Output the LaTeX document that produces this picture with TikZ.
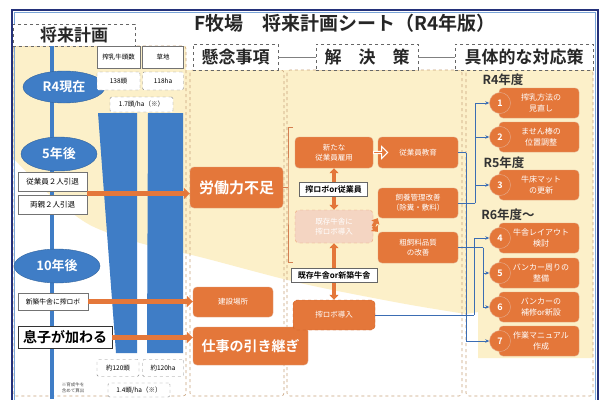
\documentclass[tikz,border=0pt]{standalone}
\usepackage{fontspec}
\setmainfont{Noto Sans CJK JP}[BoldFont={Noto Sans CJK JP Bold}]
\usetikzlibrary{arrows.meta,shapes.geometric,shapes.arrows}
\definecolor{org}{HTML}{E4773A}
\definecolor{orgd}{HTML}{C95F25}
\definecolor{cream}{HTML}{FCF0C9}
\definecolor{bl}{HTML}{3F7DC6}
\definecolor{navy}{HTML}{24317A}
\definecolor{pale}{HTML}{F4D5C2}
\definecolor{colln}{HTML}{C8A27C}
\definecolor{lnk}{HTML}{3B6DB3}
\newcommand\myfs[1]{\fontsize{#1}{#1}\selectfont}
\newcommand\myfsl[2]{\fontsize{#1}{#2}\selectfont}
\tikzset{
 hdr/.style={draw=black!60, dashed, fill=white, inner sep=0, font=\bfseries\myfs{17}, text=black!85},
 wbox/.style={draw=black!55, fill=white, inner sep=0, font=\myfs{7}},
 dbox/.style={draw=black!45, dashed, fill=white, inner sep=0, rounded corners=1.5pt, font=\myfs{6.5}},
 obox/.style={fill=org, draw=orgd!60, rounded corners=4pt, inner sep=0, text=white, align=center, font=\myfsl{7.5}{10}},
 ell/.style={ellipse, fill=bl, draw=bl!80!black, inner sep=0, text=white, font=\bfseries\myfs{13}},
 oarr/.style={draw=org, line width=5pt, -{Triangle[length=6pt,width=11pt]}},
 darr/.style={draw=org, line width=3.5pt, {Triangle[length=5pt,width=9pt]}-{Triangle[length=5pt,width=9pt]}},
 sarr/.style={draw=org, line width=3.5pt, -{Triangle[length=5pt,width=9pt]}},
 lab/.style={draw=black!60, fill=white, inner sep=0, font=\bfseries\myfs{8}},
 lnkarr/.style={draw=lnk, line width=0.7pt, -{Stealth[length=4pt,width=3.5pt]}},
 lnkl/.style={draw=lnk, line width=0.7pt},
 colbox/.style={draw=colln, dashed, line width=0.6pt, rounded corners=3pt},
 yr/.style={font=\bfseries\myfs{12.5}, text=black!80, inner sep=0},
}
\begin{document}
\begin{tikzpicture}[x=1pt,y=-1pt]
\useasboundingbox (0,0) rectangle (604,399);
\begin{scope}
\clip (0,0) rectangle (604,399);
\fill[white] (0,0) rectangle (604,399);
% cream background
\fill[cream] (13,46) -- (186,46) -- (186,70) -- (593,70) -- (593,358) -- (478,358) -- (478,312)
  -- plot[smooth] coordinates {(466,314) (400,303) (300,283) (200,257) (140,243) (90,225) (50,195) (13,158)} -- cycle;
% column frames
\draw[colbox] (13,46) rectangle (186,396);
\draw[colbox] (190,70) rectangle (284,396);
\draw[colbox] (287,70) rectangle (462,396);
\draw[colbox] (466,70) rectangle (593,396);
% outer frame
\draw[navy, line width=1.6pt] (12,10) rectangle (598,430);
\draw[bl!70, line width=0.5pt] (14.5,12.5) rectangle (595.5,430);

% title
\node[font=\bfseries\myfs{19}, text=black!85] (title) at (345,23) {F牧場　将来計画シート（R4年版）};
% headers
\node[hdr, minimum width=122, minimum height=22] (h1) at (74,35) {将来計画};
\node[hdr, minimum width=85, minimum height=26] (h2) at (235.5,57) {懸念事項};
\node[hdr, minimum width=102, minimum height=26] (h3) at (367,57) {解　決　策};
\node[hdr, minimum width=138, minimum height=26] (h4) at (524,57) {具体的な対応策};
\draw[black!50, line width=0.5] (h2.east) -- (h3.west);
\draw[black!50, line width=0.5] (h3.east) -- (h4.west);

% timeline
\coordinate (t0) at (52,46);
\coordinate (t1) at (52,399);
\draw[bl, line width=4pt] (t0) -- (t1);
% bars
\fill[bl] (98,113) -- (137,113) -- (137,353) -- (116,353) -- cycle;
\fill[bl] (148,113) -- (183,113) -- (183,353) -- (147,353) -- cycle;

% ellipses
\node[ell, minimum width=82, minimum height=32] (r4) at (64,87) {R4現在};
\node[ell, minimum width=76, minimum height=34] (y5) at (59,154) {5年後};
\node[ell, minimum width=86, minimum height=34] (y10) at (57,266) {10年後};

% top data boxes
\node[wbox, minimum width=43, minimum height=22, font=\myfs{6.5}] (d1) at (118.5,57) {搾乳牛頭数};
\node[wbox, minimum width=41, minimum height=22, font=\myfs{6.5}] (d2) at (163,57) {草地};
\node[dbox, minimum width=43, minimum height=18] (d3) at (118.5,81) {138頭};
\node[dbox, minimum width=41, minimum height=18] (d4) at (163,81) {118ha};
\node[dbox, minimum width=63, minimum height=15] (d5) at (141.5,104.5) {1.7頭/ha（※）};
% bottom data boxes
\node[dbox, minimum width=42, minimum height=17] (d6) at (118,368) {約120頭};
\node[dbox, minimum width=41, minimum height=17] (d7) at (163,368) {約120ha};
\node[dbox, minimum width=62, minimum height=14] (d8) at (139,390) {1.4頭/ha（※）};
\node[inner sep=0, align=center, font=\myfsl{4.5}{6}, text=black!70] (note) at (73,388) {※育成牛を\\含めて算出};

% event boxes
\node[wbox, minimum width=69, minimum height=19, font=\myfs{7.5}] (e1) at (52.5,182) {従業員２人引退};
\node[wbox, minimum width=69, minimum height=19, font=\myfs{7.5}] (e2) at (52.5,205) {両親２人引退};
\node[wbox, minimum width=70, minimum height=17, font=\myfs{6.8}] (e3) at (53,301.5) {新築牛舎に搾ロボ};
\node[wbox, draw=black!80, line width=0.8pt, minimum width=94, minimum height=22, font=\bfseries\myfs{14}] (e4) at (65,337.5) {息子が加わる};

% concerns
\node[obox, minimum width=93, minimum height=41, font=\bfseries\myfs{15}] (k1) at (236.5,187.5) {労働力不足};
\node[obox, minimum width=80, minimum height=30] (k2) at (233,302) {建設場所};
\node[obox, minimum width=115, minimum height=38, font=\bfseries\myfs{14}] (k3) at (250.5,346) {仕事の引き継ぎ};

% orange arrows from left
\coordinate (a1) at (87,193.5);
\draw[oarr] (a1) -- (k1.west |- a1);
\draw[oarr] (e3.east) -- (k2.west |- e3.east);
\draw[oarr] (e4.east) -- (k3.west |- e4.east);

% solutions
\node[obox, minimum width=78, minimum height=31] (s1) at (334,152.5) {新たな\\従業員雇用};
\node[obox, minimum width=80, minimum height=31] (s2) at (418,152.5) {従業員教育};
\node[obox, fill=pale, draw=org!70, dashed, minimum width=78, minimum height=33] (p) at (334,226.5) {既存牛舎に\\搾ロボ導入};
\node[obox, minimum width=80, minimum height=30] (s3) at (418,203) {飼養管理改善\\（除糞・敷料）};
\node[obox, minimum width=80, minimum height=31] (s4) at (418,247.5) {粗飼料品質\\の改善};
\node[obox, draw=orgd, dashed, minimum width=82, minimum height=30] (s5) at (334,315) {搾ロボ導入};
\node[single arrow, draw=white, fill=org, line width=1pt, minimum height=14pt, minimum width=12pt, single arrow head extend=2pt, inner sep=0] (ha) at (380,152.5) {};

% bracket
\coordinate (bt) at (293,127);
\coordinate (bb) at (293,262);
\coordinate (br) at (288,187.5);
\draw[orgd!80, line width=0.6pt] (bt) -- ++(-5,0) -- (br) -- (bb -| br) -- (bb);
\draw[orgd!80, line width=0.6pt] (k1.east) -- (br);

% vertical arrows and labels
\draw[darr] (s1.south) -- (p.north);
\draw[darr] (p.south) -- (s5.north);
\draw[sarr] (p.east) -- (s3.south west);
\draw[sarr] (p.east) -- (s4.north west);
\node[lab, minimum width=68, minimum height=14] (l1) at (333.5,189) {搾ロボor従業員};
\node[lab, minimum width=86, minimum height=14] (l2) at (334,275) {既存牛舎or新築牛舎};

% right column
\node[yr] (y4) at (503,80) {R4年度};
\node[yr] (y5r) at (504,163) {R5年度};
\node[yr] (y6) at (508,215) {R6年度～};
\foreach \cy/\n/\t in {103/1/{搾乳方法の\\見直し},137/2/{ません棒の\\位置調整},185/3/{牛床マット\\の更新},238/4/{牛舎レイアウト\\検討},273/5/{バンカー周りの\\整備},307/6/{バンカーの\\補修or新設},341/7/{作業マニュアル\\作成}}{
  \node[obox, minimum width=80, minimum height=30] (b\n) at (539,\cy) {};
  \node[circle, fill=org, draw=orgd!50, minimum size=21pt, inner sep=0] (c\n) at (500,\cy) {};
  \node[inner sep=0, text=white, align=center, font=\myfsl{8}{10.5}] (t\n) at (541,\cy) {\t};
  \node[inner sep=0, text=white, font=\bfseries\myfs{9}] (n\n) at (c\n) {\n};
}

% blue links
\coordinate (ja) at (475,203);
\draw[lnkl] (s3.east) -- (ja);
\draw[lnkarr] (ja) |- (c1.west);
\draw[lnkarr] (ja) |- (c2.west);
\draw[lnkarr] (ja) |- (c3.west);
\coordinate (jb) at (466,152.5);
\draw[lnkl] (s2.east) -- (jb);
\draw[lnkarr] (jb) |- (c7.west);
\coordinate (jc) at (483,247.5);
\draw[lnkl] (s4.east) -- (jc);
\draw[lnkarr] (jc) |- (c6.west);
\draw[lnkarr] (jc) |- (c5.west);
\coordinate (jd) at (474,315);
\draw[lnkl] (s5.east) -- (jd);
\draw[lnkarr] (jd) |- (c4.west);
\end{scope}
\end{tikzpicture}
\end{document}
